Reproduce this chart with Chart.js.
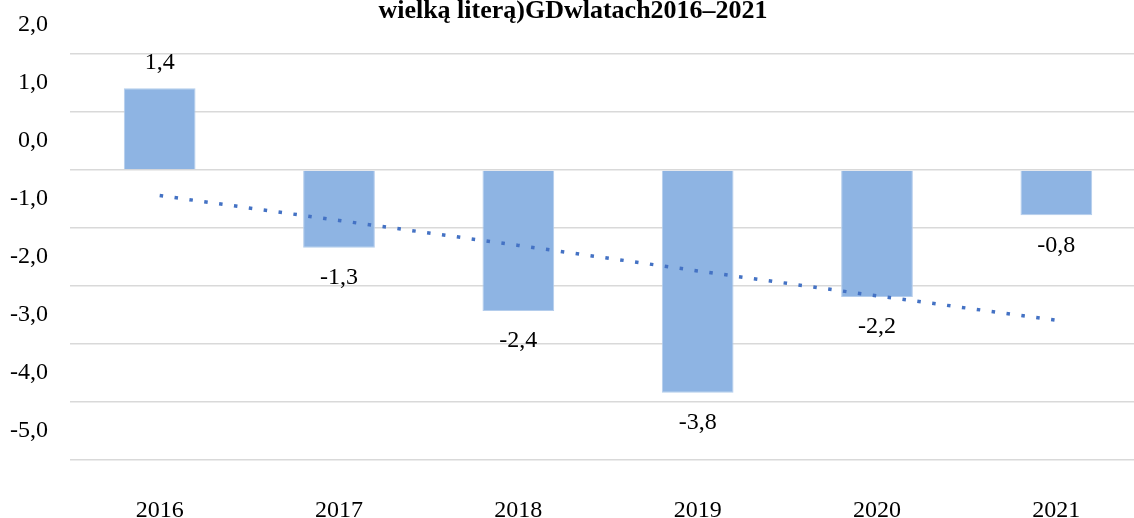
<!DOCTYPE html>
<html>
<head>
<meta charset="utf-8">
<script src="https://cdn.jsdelivr.net/npm/chart.js@4/dist/chart.umd.min.js"></script>
<style>
  html, body { margin: 0; padding: 0; background: #fff; overflow: hidden; }
  #wrap { width: 1146px; height: 518px; }
</style>
</head>
<body>
<div id="wrap"><canvas id="chart" width="1146" height="518"></canvas></div>
<script>
const years = ['2016', '2017', '2018', '2019', '2020', '2021'];
// bar heights (labels show them rounded to 1 decimal)
const values = [1.41, -1.34, -2.43, -3.84, -2.19, -0.78];
// dotted trend line
const trend = [-0.44, -0.87, -1.30, -1.74, -2.17, -2.59];
const titleText = 'wielką literą)GDwlatach2016–2021';

const fmt = v => v.toFixed(1).replace('.', ',');

const barLabels = {
  id: 'barLabels',
  afterDatasetsDraw(chart) {
    const ctx = chart.ctx;
    const meta = chart.getDatasetMeta(0);
    ctx.save();
    ctx.font = '24px "Liberation Serif", serif';
    ctx.fillStyle = '#000';
    ctx.textAlign = 'center';
    ctx.textBaseline = 'middle';
    meta.data.forEach((bar, i) => {
      const v = values[i];
      const y = v >= 0 ? bar.y - 26 : bar.y + 30;
      ctx.fillText(fmt(v), bar.x, y);
    });
    ctx.restore();
  }
};

new Chart(document.getElementById('chart'), {
  type: 'bar',
  data: {
    labels: years,
    datasets: [
      {
        type: 'bar',
        data: values,
        backgroundColor: '#8EB4E3',
        borderColor: '#B4CDEC',
        borderWidth: 1,
        barPercentage: 0.4,
        categoryPercentage: 1,
        order: 2
      },
      {
        type: 'line',
        data: trend,
        borderColor: '#4472C4',
        borderWidth: 3.5,
        borderDash: [3.5, 11.5],
        borderCapStyle: 'butt',
        pointRadius: 0,
        fill: false,
        order: 1
      }
    ]
  },
  options: {
    responsive: false,
    animation: false,
    layout: { padding: 0 },
    plugins: {
      legend: { display: false },
      tooltip: { enabled: false },
      title: {
        display: true,
        text: titleText,
        color: '#000',
        font: { family: '"Liberation Serif", serif', size: 26, weight: 'bold', lineHeight: 0.9 },
        padding: { top: 0, bottom: 30.6 }
      }
    },
    scales: {
      x: {
        grid: { display: false, drawTicks: false },
        border: { display: false },
        ticks: {
          color: '#000',
          padding: 36,
          font: { family: '"Liberation Serif", serif', size: 24 }
        },
        afterFit: s => { s.height = 58; }
      },
      y: {
        min: -5,
        max: 2,
        grid: { color: '#D9D9D9', lineWidth: 1.5, drawTicks: false },
        border: { display: false },
        ticks: {
          stepSize: 1,
          color: '#000',
          padding: 22,
          labelOffset: -29,
          font: { family: '"Liberation Serif", serif', size: 24 },
          callback: v => fmt(v)
        },
        afterFit: s => { s.width = 70; }
      }
    }
  },
  plugins: [barLabels]
});
</script>
</body>
</html>
